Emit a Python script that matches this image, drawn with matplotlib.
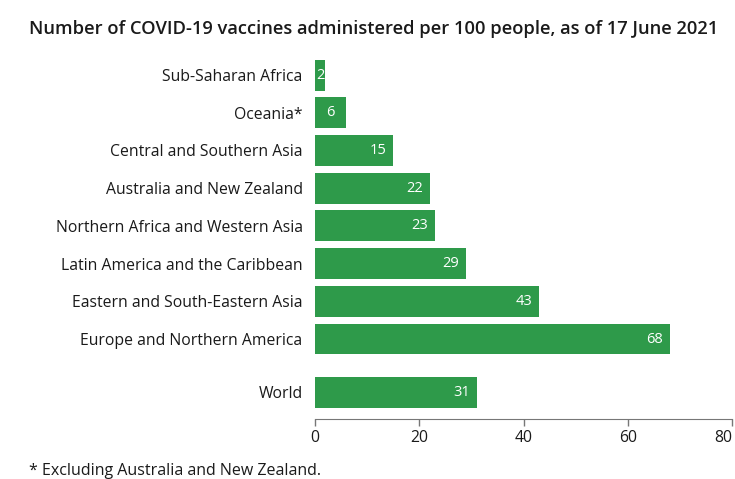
import numpy as np
import matplotlib.pyplot as plt

# Vaccines administered per 100 people, by region
regions = [
    "Sub-Saharan Africa",
    "Oceania*",
    "Central and Southern Asia",
    "Australia and New Zealand",
    "Northern Africa and Western Asia",
    "Latin America and the Caribbean",
    "Eastern and South-Eastern Asia",
    "Europe and Northern America",
    "World",
]
doses = [2, 6, 15, 22, 23, 29, 43, 68, 31]
xticks = [0, 20, 40, 60, 80]

bar_color = "#2e9a4a"
text_color = "#1a1a1a"
plt.rcParams["font.family"] = ["Open Sans", "DejaVu Sans"]

fig = plt.figure(figsize=(7.35, 4.79), dpi=100)
ax = fig.add_axes([0.4286, 0.1253, 0.5674, 0.7597])

# World sits a little apart from the regional bars
ypos = np.arange(len(regions), dtype=float)
ypos[-1] += 0.41

ax.barh(ypos, doses, height=0.82, color=bar_color)

for y, v in zip(ypos, doses):
    if v < 10:
        ax.text(v / 2, y, str(v), color="white", fontsize=10.5,
                ha="center", va="center")
    else:
        ax.text(v - 1.3, y, str(v), color="white", fontsize=10.5,
                ha="right", va="center")

ax.set_yticks(ypos)
ax.set_yticklabels(regions, fontsize=11.3, color=text_color)
ax.tick_params(axis="y", length=0, pad=9)
ax.set_ylim(9.12, -0.53)

ax.set_xlim(xticks[0], xticks[-1])
ax.set_xticks(xticks)
ax.tick_params(axis="x", colors="#777777", length=5, width=1, labelsize=11.3,
               labelcolor=text_color, pad=3)
# keep the last tick label inside the figure
ax.get_xticklabels()[-1].set_horizontalalignment("right")

for side in ("top", "right", "left"):
    ax.spines[side].set_visible(False)
ax.spines["bottom"].set_color("#777777")

fig.text(0.04, 0.94,
         "Number of COVID-19 vaccines administered per 100 people, as of 17 June 2021",
         fontsize=13.2, fontweight="semibold", color=text_color, va="center")
fig.text(0.04, 0.017, "* Excluding Australia and New Zealand.",
         fontsize=11.5, color=text_color, va="center")

fig.savefig("out.png", dpi=100, facecolor="white")
